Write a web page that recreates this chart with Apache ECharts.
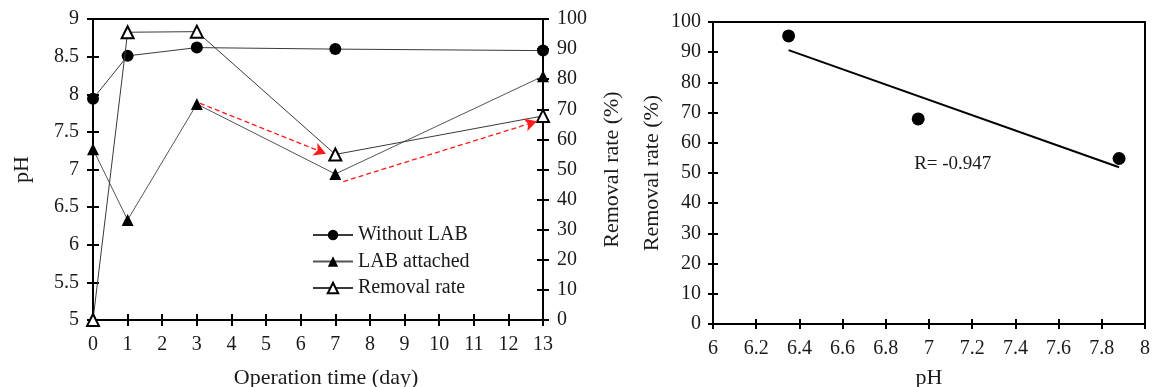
<!DOCTYPE html>
<html>
<head>
<meta charset="utf-8">
<script src="https://cdn.jsdelivr.net/npm/echarts@6/dist/echarts.min.js"></script>
<style>
html,body{margin:0;padding:0;background:#fff;}
#c{width:1153px;height:387px;}
</style>
</head>
<body>
<div id="c"></div>
<script>
// ---- data ----
const days = [0, 1, 3, 7, 13];
const phWithoutLAB = [7.94, 8.51, 8.62, 8.60, 8.58];
const phLABAttached = [7.27, 6.33, 7.87, 6.94, 8.24];
const removalRate = [0, 95.6, 95.8, 55.0, 67.8];
const seriesNames = ['Without LAB', 'LAB attached', 'Removal rate'];
const arrowStart = [[3.09, 7.88], [7.23, 6.84]];
const arrowEnd = [[6.73, 7.21], [12.82, 7.64]];
const corrPH = [6.35, 6.95, 7.88];
const corrRemoval = [95.4, 67.9, 54.8];
const trendPH = [6.35, 7.88];
const trendRemoval = [90.7, 51.9];
const rLabel = 'R= -0.947';
const rPos = [7.11, 53];
const leftXTitle = 'Operation time (day)';
const leftYTitle = 'pH';
const rightYTitle = 'Removal rate (%)';
const rightXTitle = 'pH';

const FONT = 'Liberation Serif';
const TXT = '#1a1a1a';
const tickFont = {fontFamily: FONT, fontSize: 20, color: TXT};
const nameFont = {fontFamily: FONT, fontSize: 22, color: TXT};
const axLine = {show: true, onZero: false, lineStyle: {color: '#000', width: 2}};

function mainAxis(o) {
  return Object.assign({
    type: 'value', axisLine: axLine,
    axisTick: {show: true, inside: false, length: o.tl || 6, lineStyle: {color: '#000', width: 2}},
    axisLabel: Object.assign({margin: o.lm || 12}, tickFont),
    splitLine: {show: false}, nameTextStyle: nameFont, nameLocation: 'middle'
  }, o.extra);
}
function innerAxis(o) {
  return Object.assign({
    type: 'value', axisLine: {show: false, onZero: false},
    axisTick: {show: true, inside: true, length: o.tl || 6, lineStyle: {color: '#000', width: 2}},
    axisLabel: {show: false}, splitLine: {show: false}
  }, o.extra);
}
function borderAxis(o) {
  return Object.assign({
    type: 'value', axisLine: axLine, axisTick: {show: false},
    axisLabel: {show: false}, splitLine: {show: false}
  }, o.extra);
}

const pair = (xs, ys) => xs.map((x, i) => [x, ys[i]]);

const option = {
  animation: false,
  backgroundColor: '#fff',
  grid: [
    {left: 93, top: 19, width: 450, height: 301, containLabel: false, outerBoundsMode: 'none'},
    {left: 713, top: 22, width: 432, height: 302, containLabel: false, outerBoundsMode: 'none'}
  ],
  xAxis: [
    mainAxis({lm: 15, extra: {gridIndex: 0, position: 'bottom', min: 0, max: 13, interval: 1,
      name: leftXTitle, nameGap: 47, nameTextStyle: Object.assign({padding: [0, 0, 0, 16]}, nameFont)}}),
    innerAxis({extra: {gridIndex: 0, position: 'bottom', min: 0, max: 13, interval: 1}}),
    borderAxis({extra: {gridIndex: 0, position: 'top', min: 0, max: 13}}),
    mainAxis({lm: 15, tl: 5, extra: {gridIndex: 1, position: 'bottom', min: 6, max: 8, interval: 0.2,
      name: rightXTitle, nameGap: 43}}),
    innerAxis({tl: 5, extra: {gridIndex: 1, position: 'bottom', min: 6, max: 8, interval: 0.2}}),
    borderAxis({extra: {gridIndex: 1, position: 'top', min: 6, max: 8}})
  ],
  yAxis: [
    mainAxis({lm: 14, extra: {gridIndex: 0, position: 'left', min: 5, max: 9, interval: 0.5,
      name: leftYTitle, nameGap: 60, nameRotate: 90}}),
    innerAxis({extra: {gridIndex: 0, position: 'left', min: 5, max: 9, interval: 0.5}}),
    mainAxis({lm: 14, extra: {gridIndex: 0, position: 'right', min: 0, max: 100, interval: 10,
      name: rightYTitle, nameGap: 58, nameRotate: 90}}),
    innerAxis({extra: {gridIndex: 0, position: 'right', min: 0, max: 100, interval: 10}}),
    mainAxis({lm: 12, tl: 5, extra: {gridIndex: 1, position: 'left', min: 0, max: 100, interval: 10,
      name: rightYTitle, nameGap: 50, nameRotate: 90}}),
    innerAxis({tl: 5, extra: {gridIndex: 1, position: 'left', min: 0, max: 100, interval: 10}}),
    borderAxis({extra: {gridIndex: 1, position: 'right', min: 0, max: 100}})
  ],
  legend: {
    left: 307, top: 220, orient: 'vertical', itemWidth: 40, itemHeight: 13, itemGap: 6.5,
    data: seriesNames,
    textStyle: {fontFamily: FONT, fontSize: 20, color: TXT, lineHeight: 20}
  },
  series: [
    {
      name: seriesNames[0], type: 'line', xAxisIndex: 0, yAxisIndex: 0,
      data: pair(days, phWithoutLAB), symbol: 'circle', symbolSize: 12,
      itemStyle: {color: '#000'}, lineStyle: {color: '#3a3a3a', width: 1}, z: 3
    },
    {
      name: seriesNames[1], type: 'line', xAxisIndex: 0, yAxisIndex: 0,
      data: pair(days, phLABAttached), symbol: 'triangle', symbolSize: 12,
      itemStyle: {color: '#000'}, lineStyle: {color: '#555', width: 1}, z: 3,
      markLine: {
        silent: true, symbol: ['none', 'arrow'], symbolSize: [10, 12], precision: 4,
        label: {show: false},
        lineStyle: {color: '#ff1a1a', type: [5, 3], width: 1.3},
        data: arrowStart.map((s, i) => [{coord: s}, {coord: arrowEnd[i]}])
      }
    },
    {
      name: seriesNames[2], type: 'line', xAxisIndex: 0, yAxisIndex: 2,
      data: pair(days, removalRate), symbol: 'emptyTriangle', symbolSize: 12,
      itemStyle: {color: '#000', borderWidth: 1.3}, lineStyle: {color: '#3a3a3a', width: 1}, z: 4
    },
    {
      name: 'trend', type: 'line', xAxisIndex: 3, yAxisIndex: 4,
      data: pair(trendPH, trendRemoval), symbol: 'none',
      lineStyle: {color: '#000', width: 2},
      markPoint: {
        symbol: 'circle', symbolSize: 0, silent: true,
        label: {show: true, position: 'inside', formatter: rLabel, fontFamily: FONT, fontSize: 19, color: TXT},
        data: [{coord: rPos}]
      }
    },
    {
      name: 'corr', type: 'scatter', xAxisIndex: 3, yAxisIndex: 4,
      data: pair(corrPH, corrRemoval), symbol: 'circle', symbolSize: 13,
      itemStyle: {color: '#000', opacity: 1}
    }
  ]
};

const chart = echarts.init(document.getElementById('c'), null, {renderer: 'canvas'});
chart.setOption(option);
</script>
</body>
</html>
